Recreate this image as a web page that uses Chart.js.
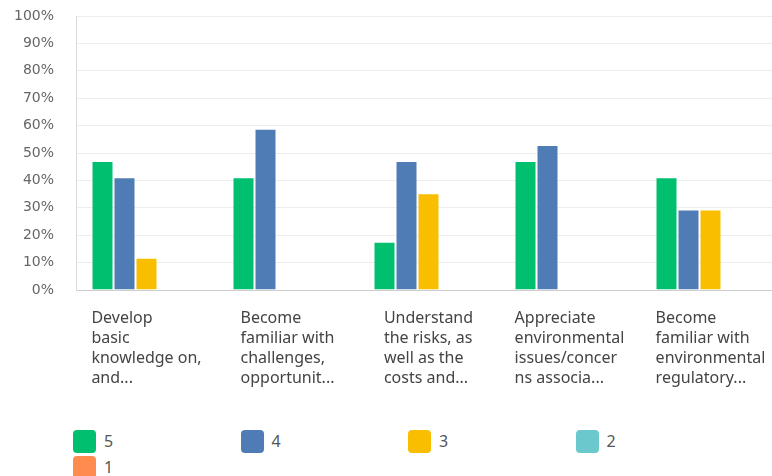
<!DOCTYPE html>
<html lang="en">
<head>
  <meta charset="UTF-8">
  <title>Survey Ratings</title>
  <script src="https://cdn.jsdelivr.net/npm/chart.js"></script>
  <style>
    body {
      margin: 0;
      background: #fff;
      font-family: 'Noto Sans', sans-serif;
      width: 772px;
      height: 476px;
      overflow: hidden;
      position: relative;
    }

    .chart-box {
      position: absolute;
      left: 0;
      top: 0;
      width: 790px;
      height: 400px;
    }

    #legend {
      position: absolute;
      left: 73px;
      top: 430px;
      display: grid;
      grid-template-columns: repeat(4, 167.5px);
      grid-auto-rows: 26px;
    }

    .legend-item {
      display: flex;
      align-items: flex-start;
      font-size: 16px;
      color: #555;
    }

    .legend-item span.box {
      width: 23px;
      height: 23px;
      border-radius: 4px;
      margin-right: 8px;
      flex: none;
    }

    .legend-item span.txt {
      line-height: 23px;
    }
  </style>
</head>
<body>

  <div class="chart-box">
    <canvas id="barChart"></canvas>
  </div>
  <div id="legend"></div>

  <script>
    const categories = [
      ["Develop", "basic", "knowledge on,", "and..."],
      ["Become", "familiar with", "challenges,", "opportunit..."],
      ["Understand", "the risks, as", "well as the", "costs and..."],
      ["Appreciate", "environmental", "issues/concer", "ns associa..."],
      ["Become", "familiar with", "environmental", "regulatory..."]
    ];

    const seriesNames = ["5", "4", "3", "2", "1"];
    const seriesColors = ["#00bf6f", "#507cb6", "#f9be00", "#6bc8cd", "#ff8b4f"];

    const rating5 = [47.06, 41.18, 17.65, 47.06, 41.18];
    const rating4 = [41.18, 58.82, 47.06, 52.94, 29.41];
    const rating3 = [11.76, 0, 35.29, 0, 29.41];
    const rating2 = [0, 0, 0, 0, 0];
    const rating1 = [0, 0, 0, 0, 0];

    const yTicks = [0, 10, 20, 30, 40, 50, 60, 70, 80, 90, 100];

    const seriesValues = [rating5, rating4, rating3, rating2, rating1];

    // wrapped category labels, centred under each group but left aligned line by line
    const categoryLabels = {
      id: 'categoryLabels',
      afterDraw(chart) {
        const ctx = chart.ctx;
        const x = chart.scales.x;
        ctx.save();
        ctx.font = '16px "Noto Sans", sans-serif';
        ctx.fillStyle = '#444';
        ctx.textAlign = 'left';
        ctx.textBaseline = 'middle';
        categories.forEach((lines, i) => {
          const cx = x.getPixelForValue(i);
          const w = Math.max(...lines.map(l => ctx.measureText(l).width));
          lines.forEach((line, j) => {
            ctx.fillText(line, cx - w / 2, x.top + 28 + j * 20);
          });
        });
        ctx.restore();
      }
    };

    const ctx = document.getElementById('barChart').getContext('2d');
    const chart = new Chart(ctx, {
      type: 'bar',
      data: {
        labels: categories.map(c => c.join(' ')),
        datasets: seriesNames.map((name, i) => ({
          label: name,
          data: seriesValues[i],
          backgroundColor: seriesColors[i],
          borderColor: 'rgba(255, 255, 255, 0.45)',
          borderWidth: 1,
          barPercentage: 1,
          categoryPercentage: 0.78
        }))
      },
      options: {
        responsive: true,
        maintainAspectRatio: false,
        animation: false,
        layout: { padding: { top: 0, right: 9, left: 0, bottom: 0 } },
        plugins: {
          legend: { display: false },
          tooltip: { enabled: false }
        },
        scales: {
          x: {
            grid: { display: true, color: 'transparent', drawTicks: false },
            border: { display: true, color: '#cfcfcf', width: 1 },
            ticks: { display: false },
            afterFit(scale) { scale.height = 110; }
          },
          y: {
            min: 0,
            max: 100,
            afterBuildTicks(scale) {
              scale.ticks = yTicks.map(v => ({ value: v }));
            },
            ticks: {
              color: '#666',
              font: { family: 'DejaVu Sans', size: 14 },
              padding: 22,
              callback: v => v + '%'
            },
            grid: { color: '#ededed', drawTicks: false },
            border: { display: true, color: '#dcdcdc' },
            afterFit(scale) {
              scale.width = 76;
              scale.paddingTop = 16;
              scale.paddingBottom = 0;
            }
          }
        }
      },
      plugins: [categoryLabels]
    });

    // legend laid out in a grid, built from the chart's datasets
    const legendEl = document.getElementById('legend');
    chart.data.datasets.forEach(ds => {
      const item = document.createElement('div');
      item.className = 'legend-item';
      item.innerHTML = '<span class="box" style="background:' + ds.backgroundColor + '"></span><span class="txt">' + ds.label + '</span>';
      legendEl.appendChild(item);
    });
  </script>

</body>
</html>
